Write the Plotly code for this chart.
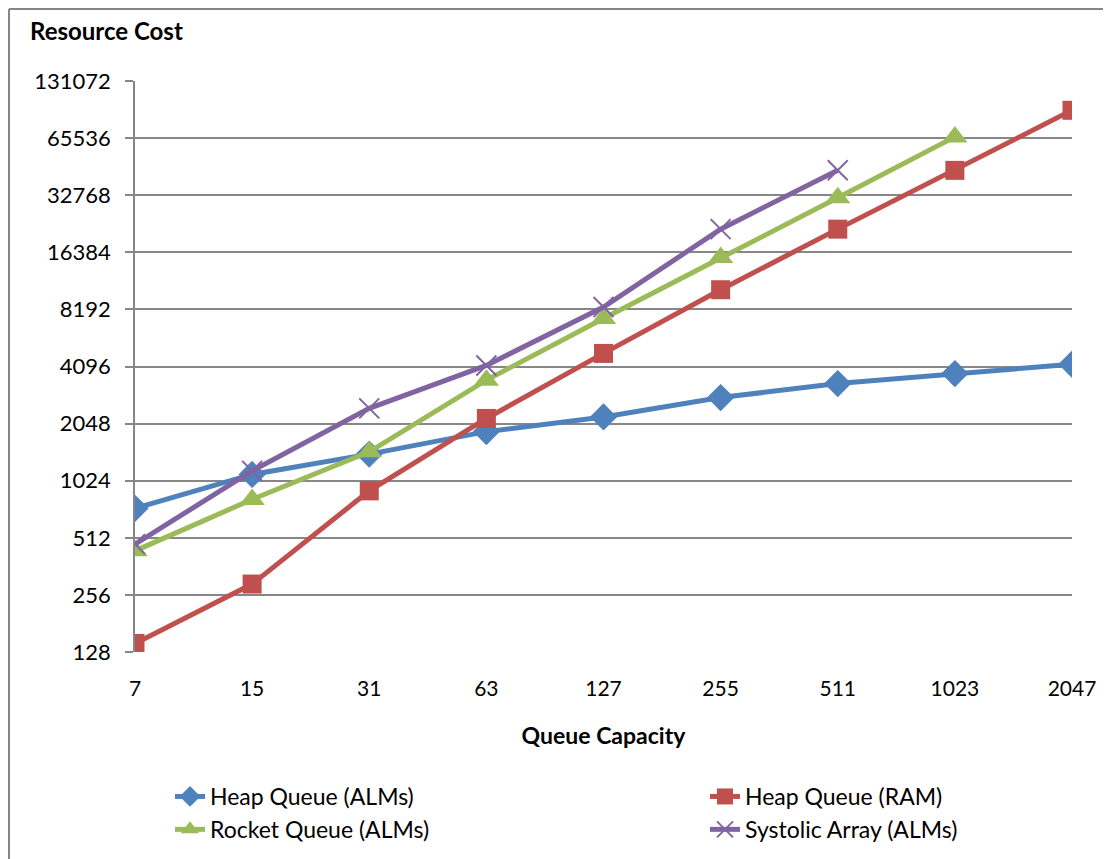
import plotly.graph_objects as go

capacity = ["7", "15", "31", "63", "127", "255", "511", "1023", "2047"]
heap_alms = [732, 1105, 1414, 1858, 2220, 2810, 3330, 3760, 4210]
heap_ram = [142, 292, 905, 2180, 4800, 10400, 21700, 44300, 91850]
rocket_alms = [437, 816, 1454, 3470, 7340, 15400, 31800, 66500]
systolic_alms = [474, 1154, 2464, 4150, 8430, 21700, 44400]
ytick_vals = [128, 256, 512, 1024, 2048, 4096, 8192, 16384, 32768, 65536, 131072]
ytick_text = [str(v) for v in ytick_vals]

FONT = "Lato, Open Sans, sans-serif"
W, H = 1111, 859
OFF = 8  # page body margin
plot_w, plot_h = 937, 571
ML, MT = 135 - OFF, 81 - OFF
MR = W - ML - plot_w
MB = H - MT - plot_h


def px_x(x):
    return (x - OFF - ML) / plot_w


def px_y(y):
    return (MT + plot_h - (y - OFF)) / plot_h


fig = go.Figure()
series = [
    ("Heap Queue (ALMs)", heap_alms, "#4F81BD", "diamond", 21, 0, "legend"),
    ("Heap Queue (RAM)", heap_ram, "#C0504D", "square", 19, 0, "legend2"),
    ("Rocket Queue (ALMs)", rocket_alms, "#9BBB59", "triangle-up", 22, 0, "legend"),
    ("Systolic Array (ALMs)", systolic_alms, "#8064A2", "x-thin", 20, 2, "legend2"),
]
for name, vals, col, sym, size, lw, lg in series:
    fig.add_trace(go.Scatter(
        x=capacity[:len(vals)], y=vals, name=name, mode="lines+markers",
        line=dict(color=col, width=5),
        marker=dict(symbol=sym, size=size, color=col,
                    line=dict(color=col, width=lw)),
        legend=lg,
    ))

legend_common = dict(orientation="v", xanchor="left", yanchor="top",
                     font=dict(family=FONT, size=23), bgcolor="rgba(0,0,0,0)",
                     tracegroupgap=0, borderwidth=0)

fig.update_layout(
    width=W, height=H,
    margin=dict(l=ML, r=MR, t=MT, b=MB, autoexpand=False),
    paper_bgcolor="white", plot_bgcolor="white",
    font=dict(family=FONT, size=21, color="black"),
    showlegend=True,
    legend=dict(x=px_x(170), y=px_y(775), **legend_common),
    legend2=dict(x=px_x(705), y=px_y(775), **legend_common),
    xaxis=dict(type="category", categoryorder="array", categoryarray=capacity,
               range=[0, len(capacity) - 1], showgrid=False, showline=False,
               zeroline=False, ticks="", tickfont=dict(size=21),
               ticklabelstandoff=22,
               title=dict(text="<b>Queue Capacity</b>", font=dict(size=23), standoff=28)),
    yaxis=dict(type="log", range=[2.1072, 5.1175], tickvals=ytick_vals, ticktext=ytick_text,
               showgrid=True, gridcolor="#878787", gridwidth=1.5,
               showline=True, linecolor="#878787", linewidth=1.5,
               ticks="outside", ticklen=8, tickcolor="#878787", tickwidth=1.5,
               ticklabelstandoff=10,
               tickfont=dict(size=22), zeroline=False),
    annotations=[dict(text="<b>Resource Cost</b>", xref="paper", yref="paper",
                      x=px_x(28), y=px_y(30),
                      xanchor="left", yanchor="middle", showarrow=False,
                      font=dict(family=FONT, size=24))],
    shapes=[
        dict(type="line", xref="paper", yref="paper",
             x0=px_x(OFF + 1), x1=px_x(OFF + 1), y0=px_y(OFF + 1), y1=px_y(H + 20),
             line=dict(color="#868686", width=2)),
        dict(type="line", xref="paper", yref="paper",
             x0=px_x(OFF + 1), x1=px_x(W + 20), y0=px_y(OFF + 1), y1=px_y(OFF + 1),
             line=dict(color="#868686", width=2)),
    ],
)

fig.write_html("out.html")
